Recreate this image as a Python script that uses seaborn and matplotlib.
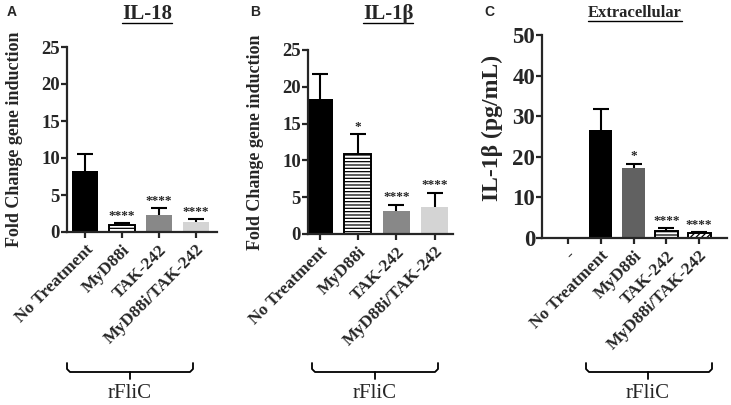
import matplotlib
matplotlib.use("Agg")
import matplotlib.pyplot as plt
from matplotlib.lines import Line2D
import seaborn as sns

# ---- data ----
il18_groups = ["No Treatment", "MyD88i", "TAK-242", "MyD88i/TAK-242"]
il18_fold = [8.2, 0.9, 2.3, 1.4]
il18_err = [2.4, 0.3, 0.9, 0.3]
il18_stars = ["", "****", "****", "****"]

il1b_groups = ["No Treatment", "MyD88i", "TAK-242", "MyD88i/TAK-242"]
il1b_fold = [18.4, 10.9, 3.1, 3.7]
il1b_err = [3.3, 2.7, 0.9, 1.9]
il1b_stars = ["", "*", "****", "****"]

ext_groups = ["-", "No Treatment", "MyD88i", "TAK-242", "MyD88i/TAK-242"]
ext_pgml = [0.0, 26.5, 17.2, 1.8, 1.3]
ext_err = [0.0, 5.3, 1.1, 0.6, 0.2]
ext_stars = ["", "", "*", "****", "****"]

# ---- styles ----
gene_colors = ["#000000", "#ffffff", "#888888", "#d4d4d4"]
gene_hatches = [None, "-----", None, None]
ext_colors = ["#ffffff", "#000000", "#616161", "#ffffff", "#ffffff"]
ext_hatches = [None, None, None, "-----", "//////"]

sns.set_style("ticks")
plt.rcParams["font.family"] = ["Liberation Serif", "DejaVu Serif"]
plt.rcParams["font.weight"] = "bold"
plt.rcParams["hatch.linewidth"] = 0.9

W, H = 731, 405
fig = plt.figure(figsize=(W / 100, H / 100), dpi=100)


def px(x, y):
    return x / W, 1 - y / H


def panel(rect, groups, vals, errs, stars, colors, hatches, ymax, ystep,
          xlim, ylabel, tick_fs, label_fs, label_xy):
    ax = fig.add_axes(rect)
    sns.barplot(x=groups, y=vals, hue=groups, order=groups, hue_order=groups,
                palette=colors, saturation=1, width=0.7, errorbar=None,
                legend=False, ax=ax)
    for patch, hatch in zip(ax.patches, hatches):
        if hatch:
            patch.set_hatch(hatch)
            patch.set_edgecolor("black")
            patch.set_linewidth(1.4)
        else:
            patch.set_linewidth(0)
    for i, (v, e, s) in enumerate(zip(vals, errs, stars)):
        if e > 0:
            eb = ax.errorbar(i, v, yerr=[[0], [e]], color="black", lw=1.5,
                             capsize=5.5, capthick=1.5)
            eb[1][0].set_visible(False)  # no cap at the bar top
        if s:
            ax.annotate(s, (i, v + e), xytext=(0, 1), textcoords="offset points",
                        ha="center", va="bottom", fontsize=9.5, fontweight="bold")
    ax.set_ylim(0, ymax)
    ax.set_yticks(range(0, ymax + 1, ystep))
    ax.set_xlim(*xlim)
    sns.despine(ax=ax)
    for sp in ax.spines.values():
        sp.set_linewidth(1.6)
    ax.tick_params(width=1.6, length=4, direction="out")
    ax.tick_params(axis="y", labelsize=tick_fs, pad=1)
    ax.tick_params(axis="x", labelsize=12.5, pad=3)
    plt.setp(ax.get_xticklabels(), rotation=45, ha="right",
             rotation_mode="anchor", fontweight="bold")
    plt.setp(ax.get_yticklabels(), fontweight="bold")
    ax.set_ylabel(ylabel, fontsize=label_fs, fontweight="bold")
    ax.yaxis.set_label_coords(*label_xy)
    ax.set_xlabel("")
    return ax


ax_a = panel([67 / W, 1 - 232 / H, 150 / W, 185 / H], il18_groups, il18_fold,
             il18_err, il18_stars, gene_colors, gene_hatches, 25, 5,
             (-0.49, 3.57), "Fold Change gene induction", 13.5, 13, (-0.29, 0.5))
ax_b = panel([308 / W, 1 - 234 / H, 145 / W, 184 / H], il1b_groups, il1b_fold,
             il1b_err, il1b_stars, gene_colors, gene_hatches, 25, 5,
             (-0.30, 3.48), "Fold Change gene induction", 13.5, 13, (-0.30, 0.5))
ax_c = panel([542 / W, 1 - 238 / H, 185 / W, 203 / H], ext_groups, ext_pgml,
             ext_err, ext_stars, ext_colors, ext_hatches, 50, 10,
             (-0.79, 4.85), "IL-1β (pg/mL)", 16.5, 17, (-0.21, 0.54))

# panel letters
for letter, x in [("A", 7), ("B", 250), ("C", 484)]:
    fig.text(*px(x, 12), letter, fontsize=10, fontweight="bold",
             family="Liberation Sans", va="center", ha="left")

# underlined titles
titles = []
for txt, x, y, fs, uy in [("IL-18", 147, 14, 15, 23), ("IL-1β", 388, 14, 15, 23),
                          ("Extracellular", 635, 13, 12, 21)]:
    t = fig.text(*px(x, y), txt, fontsize=fs, fontweight="bold",
                 ha="center", va="center")
    titles.append((t, uy))
fig.canvas.draw()
for t, uy in titles:
    bb = t.get_window_extent()
    fig.add_artist(Line2D([bb.x0 / W, bb.x1 / W], [1 - uy / H] * 2,
                          transform=fig.transFigure, color="black", lw=1.0))

# brackets with "rFliC"
for x0, x1, xc in [(67, 193, 130), (312, 438, 375), (586, 712, 648)]:
    xs = [x0, x0, x0 + 3, x1 - 3, x1, x1]
    ys = [363, 369, 372, 372, 369, 363]
    fig.add_artist(Line2D([x / W for x in xs], [1 - y / H for y in ys],
                          transform=fig.transFigure, color="black", lw=1.3))
    fig.add_artist(Line2D([xc / W, xc / W], [1 - 372 / H, 1 - 379 / H],
                          transform=fig.transFigure, color="black", lw=1.3))
    fig.text(*px(xc, 393), "rFliC", fontsize=15, fontweight="normal",
             ha="center", va="center")

fig.savefig("out.png", dpi=100)
